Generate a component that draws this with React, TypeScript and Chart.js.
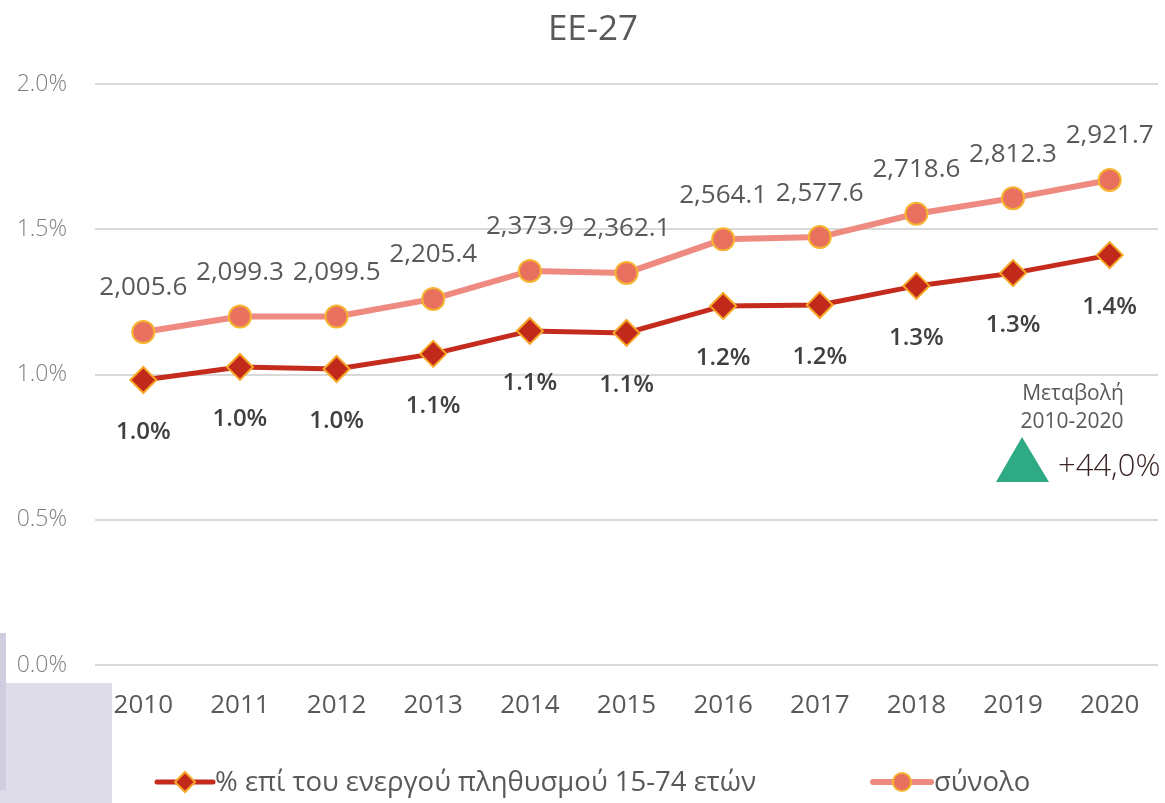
import React, { useEffect, useRef } from 'react';
import { Chart, registerables } from 'chart.js';

Chart.register(...registerables);

const titleText = 'EE-27';
const years = ['2010', '2011', '2012', '2013', '2014', '2015', '2016', '2017', '2018', '2019', '2020'];
const shareValues = [0.981, 1.026, 1.019, 1.071, 1.15, 1.143, 1.236, 1.239, 1.305, 1.349, 1.411];
const totalValues = [2005.6, 2099.3, 2099.5, 2205.4, 2373.9, 2362.1, 2564.1, 2577.6, 2718.6, 2812.3, 2921.7];
const shareLabel = '% επί του ενεργού πληθυσμού 15-74 ετών';
const totalLabel = 'σύνολο';
const changeTitle = ['Μεταβολή', '2010-2020'];
const changeValue = '+44,0%';
const yMin = 0;
const yMax = 2;
const yStep = 0.5;
const y2Max = 3500;

const FONT = '"Open Sans", "Noto Sans", sans-serif';

const labelsPlugin = {
  id: 'customLabels',
  afterDatasetsDraw(chart: any) {
    const ctx = chart.ctx;
    ctx.save();
    const m0 = chart.getDatasetMeta(0);
    ctx.textAlign = 'center';
    ctx.textBaseline = 'middle';
    ctx.font = `600 24px ${FONT}`;
    ctx.fillStyle = '#404040';
    m0.data.forEach((pt: any, i: number) => {
      ctx.fillText(shareValues[i].toFixed(1) + '%', pt.x, pt.y + 52);
    });
    const m1 = chart.getDatasetMeta(1);
    ctx.font = `400 26px ${FONT}`;
    ctx.fillStyle = '#595959';
    m1.data.forEach((pt: any, i: number) => {
      const s = totalValues[i].toLocaleString('en-US', { minimumFractionDigits: 1, maximumFractionDigits: 1 });
      ctx.fillText(s, pt.x, pt.y - 44);
    });
    ctx.restore();
  },
  afterDraw(chart: any) {
    const ctx = chart.ctx;
    ctx.save();
    ctx.textAlign = 'center';
    ctx.textBaseline = 'middle';
    ctx.font = `400 35px ${FONT}`;
    ctx.fillStyle = '#595959';
    ctx.fillText(titleText, 593, 30);

    ctx.font = `400 21px ${FONT}`;
    ctx.fillStyle = '#595959';
    ctx.fillText(changeTitle[0], 1073, 394);
    ctx.fillText(changeTitle[1], 1072, 422);
    ctx.fillStyle = '#2eaa84';
    ctx.beginPath();
    ctx.moveTo(1022, 437);
    ctx.lineTo(1049, 482);
    ctx.lineTo(996, 482);
    ctx.closePath();
    ctx.fill();
    ctx.textAlign = 'left';
    ctx.font = `300 31px ${FONT}`;
    ctx.fillStyle = '#3b2424';
    ctx.fillText(changeValue, 1058, 467);

    const ds = chart.data.datasets;
    const ly = 782;
    const items = [
      { x0: 157, x1: 213, tx: 215, text: shareLabel, d: ds[0] },
      { x0: 873, x1: 931, tx: 934, text: totalLabel, d: ds[1] },
    ];
    items.forEach((it, idx) => {
      ctx.strokeStyle = it.d.borderColor;
      ctx.lineWidth = it.d.borderWidth;
      ctx.lineCap = 'round';
      ctx.beginPath();
      ctx.moveTo(it.x0, ly);
      ctx.lineTo(it.x1, ly);
      ctx.stroke();
      const cx = (it.x0 + it.x1) / 2;
      ctx.fillStyle = it.d.pointBackgroundColor;
      ctx.strokeStyle = it.d.pointBorderColor;
      ctx.lineWidth = 2;
      ctx.beginPath();
      if (idx === 0) {
        const r = 10;
        ctx.moveTo(cx, ly - r);
        ctx.lineTo(cx + r, ly);
        ctx.lineTo(cx, ly + r);
        ctx.lineTo(cx - r, ly);
        ctx.closePath();
      } else {
        ctx.arc(cx, ly, 9, 0, Math.PI * 2);
      }
      ctx.fill();
      ctx.stroke();
      ctx.textAlign = 'left';
      ctx.textBaseline = 'middle';
      ctx.font = `400 27.5px ${FONT}`;
      ctx.fillStyle = '#595959';
      ctx.fillText(it.text, it.tx, ly + 1);
    });
    ctx.restore();
  },
};

export default function App() {
  const ref = useRef<HTMLCanvasElement | null>(null);
  useEffect(() => {
    if (!ref.current) return;
    const chart = new Chart(ref.current, {
      type: 'line',
      data: {
        labels: years,
        datasets: [
          {
            label: shareLabel,
            data: shareValues,
            yAxisID: 'y',
            borderColor: '#c42b1c',
            borderWidth: 5,
            pointStyle: 'rectRot',
            pointRadius: 13,
            pointBackgroundColor: '#c1291b',
            pointBorderColor: '#f7a728',
            pointBorderWidth: 2,
            tension: 0,
          },
          {
            label: totalLabel,
            data: totalValues,
            yAxisID: 'y2',
            borderColor: '#ef8a80',
            borderWidth: 6,
            pointStyle: 'circle',
            pointRadius: 11,
            pointBackgroundColor: '#e8705f',
            pointBorderColor: '#f5b530',
            pointBorderWidth: 2,
            tension: 0,
          },
        ],
      },
      options: {
        responsive: false,
        animation: false,
        devicePixelRatio: 1,
        layout: { autoPadding: false, padding: { left: 0, right: 7, top: 84, bottom: 0 } },
        plugins: {
          legend: { display: false },
          title: { display: false },
          tooltip: { enabled: false },
        },
        scales: {
          x: {
            offset: true,
            grid: { display: false, drawTicks: false },
            border: { display: false },
            ticks: {
              padding: 25,
              color: '#595959',
              font: { family: FONT, size: 26 },
            },
            afterFit(scale: any) {
              scale.height = 138;
              scale.paddingLeft = 0;
              scale.paddingRight = 0;
            },
          },
          y: {
            min: yMin,
            max: yMax,
            grid: { color: '#d9d9d9', lineWidth: 2, drawTicks: false },
            border: { display: false },
            ticks: {
              stepSize: yStep,
              padding: 28,
              color: '#7f7f7f',
              font: { family: FONT, size: 23, weight: '300' as any },
              callback: (v: any) => Number(v).toFixed(1) + '%',
            },
            afterFit(scale: any) {
              scale.width = 95;
            },
          },
          y2: {
            min: 0,
            max: y2Max,
            display: false,
            position: 'right',
          },
        },
      },
      plugins: [labelsPlugin],
    });
    return () => chart.destroy();
  }, []);

  return (
    <div style={{ position: 'absolute', left: 0, top: 0, width: 1165, height: 803, overflow: 'hidden', background: '#ffffff' }}>
      <div style={{ position: 'absolute', left: 0, top: 683, width: 112, height: 120, background: '#dedce9' }} />
      <div style={{ position: 'absolute', left: 0, top: 633, width: 6, height: 157, background: '#cfcde0' }} />
      <canvas ref={ref} width={1165} height={803} style={{ position: 'absolute', left: 0, top: 0, width: 1165, height: 803 }} />
    </div>
  );
}
